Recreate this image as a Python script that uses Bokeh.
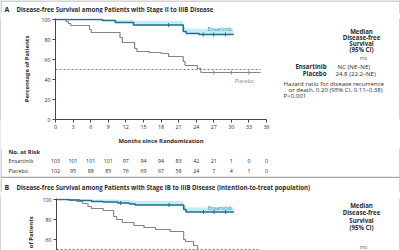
import numpy as np
from bokeh.plotting import figure
from bokeh.models import Range1d, FixedTicker
from bokeh.layouts import column, row
from bokeh.core.properties import value
from bokeh.embed import file_html
from bokeh.resources import INLINE

FONT = "Open Sans"
TEAL = "#1d6f8e"
TEAL_TXT = "#2a93b3"
BAND = "#c4ecf6"
GRAY = "#858585"
TXT = "#2b2b2b"
FRAME = "#a8a8a8"

# ---------------- data ----------------
month_ticks = [0, 3, 6, 9, 12, 15, 18, 21, 24, 27, 30, 33, 36]
pct_ticks_a = [0, 20, 40, 60, 80, 100]
pct_ticks_b = [60, 80, 100]

# Panel A: stage II-IIIB
a_ens_t = [0, 8.0, 10.2, 13.3, 21.8, 22.3, 24.5]
a_ens_s = [100, 99, 97, 94.5, 88, 86, 85]
a_ens_hi = [100, 100, 99.5, 98.5, 92, 91, 90.5]
a_ens_end = 30.4
a_ens_cens = [19.3, 25.2, 27.0, 29.0]

a_pla_t = [0, 1.8, 2.2, 2.6, 5.8, 6.1, 11.0, 11.4, 13.5, 13.9, 16.0, 18.0, 19.3, 21.8, 22.1, 24.2, 24.8]
a_pla_s = [100, 98, 96, 94, 90, 87, 82, 77, 71, 68, 67, 66, 63, 58, 54, 51, 47]
a_pla_end = 35.0
a_pla_cens = [27.0, 30.0, 33.0]

risk_ens = [103, 101, 101, 101, 97, 94, 94, 83, 42, 21, 1, 0, 0]
risk_pla = [102, 95, 88, 85, 76, 69, 67, 58, 24, 7, 4, 1, 0]

# Panel B: stage IB-IIIB (ITT)
b_ens_t = [0, 2.2, 4.0, 6.0, 8.0, 10.5, 12.5, 13.5, 21.8, 22.2]
b_ens_s = [100, 99.5, 99, 98, 97.5, 96.5, 95.5, 94.5, 90, 87.5]
b_ens_hi = [100, 100, 100, 100, 100, 99.5, 99, 98.5, 94, 92]
b_ens_end = 30.4
b_ens_cens = [11.0, 19.3, 25.2, 27.0, 29.0]

b_pla_t = [0, 2.0, 3.5, 4.5, 5.4, 6.0, 8.0, 9.8, 10.3, 11.3, 13.3, 15.0, 17.0, 19.5, 21.8, 22.1, 23.5, 24.2, 25.0]
b_pla_s = [100, 99.5, 98, 96, 93, 91, 89, 83, 80, 77, 74, 72, 70, 68, 60, 58, 54, 49, 46]
b_pla_end = 35.0

median_ref = 50

# ---------------- layout geometry (canvas pixels) ----------------
W = 400
PLOT_L, PLOT_R = 55, 266          # x of month 0 and month 36
K = (PLOT_R - PLOT_L) / 36.0      # pixels per month
SPLIT = 270                        # left edge of the right-hand text column
SIDE = "6.1px"                     # font size of the right-hand text column
TITLE = "6.1px"
TICK = "5.3px"


def step_xy(t, s, end):
    return list(t) + [end], list(s) + [s[-1]]


def value_at(t, s, x):
    idx = np.searchsorted(np.asarray(t), np.asarray(x), side="right") - 1
    return [float(v) for v in np.asarray(s)[idx]]


def blank(width, height, x0, x1, y_top, y_bot, bg="white"):
    """Text/decoration panel whose frame fills the whole figure (canvas-pixel coordinates)."""
    p = figure(width=width, height=height, x_range=Range1d(x0, x1), y_range=Range1d(y_bot, y_top),
               min_border=0, toolbar_location=None, output_backend="svg", outline_line_color=None,
               x_axis_location=None, y_axis_location=None,
               background_fill_color=bg, border_fill_color=bg)
    p.grid.visible = False
    return p


def txt(p, x, y, s, size="6px", bold=False, color=TXT, align="left", angle=0.0, **kw):
    p.text(x=[x], y=[y], text=[s], text_font=value(FONT), text_font_size=value(size),
           text_font_style="bold" if bold else "normal", text_color=color,
           text_align=align, text_baseline="middle", angle=angle, **kw)


def vline(p, x, y0, y1, **kw):
    p.segment(x0=[x], y0=[y0], x1=[x], y1=[y1], line_color=FRAME, line_width=1, **kw)


def plot_fig(width, height, y0, y1, left, top, bottom, xaxis):
    p = figure(width=width, height=height, x_range=Range1d(0, 36), y_range=Range1d(y0, y1),
               min_border_left=left, min_border_right=SPLIT - PLOT_R, min_border_top=top,
               min_border_bottom=bottom, toolbar_location=None, output_backend="svg",
               outline_line_color=None, x_axis_location="below" if xaxis else None,
               background_fill_color="white", border_fill_color="white")
    p.grid.visible = False
    for ax in p.axis:
        ax.axis_line_color = "#444444"
        ax.major_tick_line_color = "#444444"
        ax.major_tick_in = 0
        ax.major_tick_out = 3
        ax.minor_tick_line_color = None
        ax.major_label_text_font = FONT
        ax.major_label_text_font_size = TICK
        ax.major_label_text_color = TXT
        ax.major_label_standoff = 2
        ax.axis_label_text_font = FONT
        ax.axis_label_text_font_style = "bold"
        ax.axis_label_text_font_size = "5.9px"
        ax.axis_label_text_color = TXT
    return p


def draw_curves(p, ens_t, ens_s, ens_hi, ens_end, ens_cens, pla_t, pla_s, pla_end, pla_cens):
    ex, ey = step_xy(ens_t, ens_s, ens_end)
    _, eh = step_xy(ens_t, ens_hi, ens_end)
    p.varea_step(x=ex, y1=ey, y2=eh, step_mode="after", fill_color=BAND, fill_alpha=1)
    p.line(x=[0, 35], y=[median_ref, median_ref], line_color="#555555", line_width=0.8, line_dash="2 2")
    px, py = step_xy(pla_t, pla_s, pla_end)
    p.step(x=px, y=py, mode="after", line_color=GRAY, line_width=1.2)
    p.step(x=ex, y=ey, mode="after", line_color=TEAL, line_width=1.6)
    p.scatter(x=ens_cens, y=value_at(ens_t, ens_s, ens_cens), marker="dash", angle=np.pi / 2,
              size=4, line_color=TEAL, line_width=1)
    if pla_cens:
        p.scatter(x=pla_cens, y=value_at(pla_t, pla_s, pla_cens), marker="dash", angle=np.pi / 2,
                  size=4, line_color=GRAY, line_width=1)


# ================= panel A =================
# title strip (y 0..13)
title_a = blank(W, 13, 0, W, 0, 13)
p_ = title_a
p_.segment(x0=[0], y0=[0.5], x1=[W], y1=[0.5], line_color=FRAME, line_width=1)
vline(p_, 0.5, 0, 13)
vline(p_, W - 0.5, 0, 13)
txt(p_, 4, 9, "A", size="7px", bold=True)
txt(p_, 16, 9, "Disease-free Survival among Patients with Stage II to IIIB Disease", size=TITLE, bold=True)

# plot row (y 13..148)
ROW_A_TOP, ROW_A_BOT = 13, 148
edge_a = blank(1, ROW_A_BOT - ROW_A_TOP, 0, 1, 0, 1, bg=FRAME)

pa = plot_fig(SPLIT - 1, ROW_A_BOT - ROW_A_TOP, 0, 101, PLOT_L - 1, 18 - ROW_A_TOP, ROW_A_BOT - 119, True)
pa.xaxis.ticker = FixedTicker(ticks=month_ticks)
pa.yaxis.ticker = FixedTicker(ticks=pct_ticks_a)
pa.xaxis.axis_label = "Months since Randomization"
pa.xaxis.axis_label_standoff = 5
pa.yaxis.axis_label = "Percentage of Patients"
pa.yaxis.axis_label_standoff = 7
draw_curves(pa, a_ens_t, a_ens_s, a_ens_hi, a_ens_end, a_ens_cens,
            a_pla_t, a_pla_s, a_pla_end, a_pla_cens)
txt(pa, 28.0, 91, "Ensartinib", size="5.2px", color=TEAL_TXT, align="center")
txt(pa, 32.2, 39, "Placebo", size="5.2px", color=GRAY, align="center")

right_a = blank(W - SPLIT, ROW_A_BOT - ROW_A_TOP, SPLIT, W, ROW_A_TOP, ROW_A_BOT)
p_ = right_a
vline(p_, W - 0.5, ROW_A_TOP, ROW_A_BOT)
for i, line in enumerate(["Median", "Disease-free", "Survival", "(95% CI)"]):
    txt(p_, 361, 31 + 8 * i, line, size=SIDE, bold=True, align="center")
txt(p_, 363, 66, "mo", size="5px", color="#666666", align="center")
txt(p_, 326, 77, "Ensartinib", size=SIDE, bold=True, align="right")
txt(p_, 337, 77, "NC (NE\u2013NE)", size=SIDE)
txt(p_, 326, 86, "Placebo", size=SIDE, bold=True, align="right")
txt(p_, 335, 86, "24.8 (22.2\u2013NE)", size=SIDE)
txt(p_, 283, 100, "Hazard ratio for disease recurrence", size=SIDE)
txt(p_, 288, 108, "or death, 0.20 (95% CI, 0.11\u20130.38)", size=SIDE)
txt(p_, 283, 116, "P<0.001", size=SIDE)

# number-at-risk table (y 148..178), month axis aligned with the plot above
risk = figure(width=W, height=30, x_range=Range1d(-PLOT_L / K, (W - PLOT_L) / K),
              y_range=Range1d(178, 148), min_border=0, toolbar_location=None,
              output_backend="svg", outline_line_color=None,
              x_axis_location=None, y_axis_location=None)
risk.grid.visible = False
risk.extra_x_ranges = {"px": Range1d(0, W)}
vline(risk, 0.5, 148, 178, x_range_name="px")
vline(risk, W - 0.5, 148, 178, x_range_name="px")
risk.quad(left=[0], right=[W], top=[176.2], bottom=[178], fill_color=FRAME, line_color=None,
          x_range_name="px")
txt(risk, 8, 151, "No. at Risk", size="5.9px", bold=True, x_range_name="px")
txt(risk, 8, 160, "Ensartinib", size="5.3px", x_range_name="px")
txt(risk, 8, 170, "Placebo", size="5.3px", x_range_name="px")
for counts, yy in ((risk_ens, 160), (risk_pla, 170)):
    risk.text(x=month_ticks, y=[yy] * len(month_ticks), text=[str(v) for v in counts],
              text_font=value(FONT), text_font_size=value(TICK), text_color=TXT,
              text_align="center", text_baseline="middle")

# ================= panel B =================
title_b = blank(W, 14, 0, W, 178, 192)
p_ = title_b
vline(p_, 0.5, 178, 192)
vline(p_, W - 0.5, 178, 192)
txt(p_, 4, 187, "B", size="7px", bold=True)
txt(p_, 16, 187,
    "Disease-free Survival among Patients with Stage IB to IIIB Disease (intention-to-treat population)",
    size=TITLE, bold=True)

ROW_B_TOP, ROW_B_BOT = 192, 250
LEFT_B = 39
edge_b = blank(1, ROW_B_BOT - ROW_B_TOP, 0, 1, 0, 1, bg=FRAME)
left_b = blank(LEFT_B - 1, ROW_B_BOT - ROW_B_TOP, 1, LEFT_B, ROW_B_TOP, ROW_B_BOT)
txt(left_b, 30, 249, "Percentage of Patients", size="5.9px", bold=True, align="center",
    angle=np.pi / 2)

pb = plot_fig(SPLIT - LEFT_B, ROW_B_BOT - ROW_B_TOP, 49, 101, PLOT_L - LEFT_B, 198 - ROW_B_TOP, 0, False)
pb.yaxis.ticker = FixedTicker(ticks=pct_ticks_b)
draw_curves(pb, b_ens_t, b_ens_s, b_ens_hi, b_ens_end, b_ens_cens,
            b_pla_t, b_pla_s, b_pla_end, [])
txt(pb, 28.0, 92, "Ensartinib", size="5.2px", color=TEAL_TXT, align="center")

right_b = blank(W - SPLIT, ROW_B_BOT - ROW_B_TOP, SPLIT, W, ROW_B_TOP, ROW_B_BOT)
p_ = right_b
vline(p_, W - 0.5, ROW_B_TOP, ROW_B_BOT)
for i, line in enumerate(["Median", "Disease-free", "Survival", "(95% CI)"]):
    txt(p_, 361, 200 + 8 * i, line, size=SIDE, bold=True, align="center")
txt(p_, 363, 246, "mo", size="5px", color="#666666", align="center")

layout = column(
    title_a,
    row(edge_a, pa, right_a, spacing=0),
    risk,
    title_b,
    row(edge_b, left_b, pb, right_b, spacing=0),
    spacing=0,
)
open("out.html", "w").write(file_html(layout, INLINE))
